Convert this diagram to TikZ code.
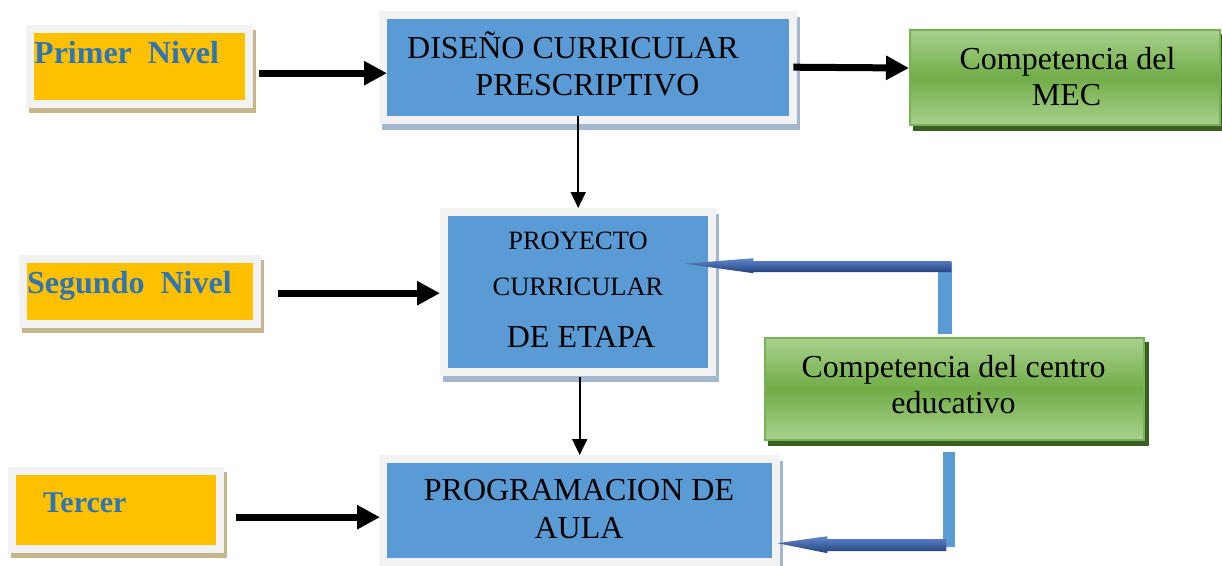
\documentclass[tikz,border=0pt]{standalone}
\usepackage{fontspec}
\setmainfont{Liberation Serif}
\usetikzlibrary{arrows.meta,calc}
\definecolor{orng}{HTML}{FFC000}
\definecolor{lbl}{HTML}{2E75B6}
\definecolor{bbox}{HTML}{5B9BD5}
\definecolor{frm}{HTML}{F2F2F2}
\definecolor{tanshd}{HTML}{C4B58A}
\definecolor{bshd}{HTML}{A3B7CF}
\definecolor{glight}{HTML}{A9D18E}
\definecolor{gmid}{HTML}{70AD47}
\definecolor{gborder}{HTML}{77B255}
\definecolor{gdark}{HTML}{3B5E24}
\definecolor{abl}{HTML}{4472C4}
\definecolor{abd}{HTML}{22407A}
\begin{document}
\begin{tikzpicture}[x=1pt,y=-1pt,
  lvlbox/.style={fill=orng, inner sep=0pt, anchor=north west,
    preaction={draw=tanshd, fill=tanshd, line width=16pt, transform canvas={shift={(3pt,-5pt)}}},
    preaction={draw=frm, line width=16pt}},
  bluebox/.style={fill=bbox, inner sep=0pt, anchor=north west,
    preaction={draw=bshd, fill=bshd, line width=16pt, transform canvas={shift={(3pt,-6pt)}}},
    preaction={draw=frm, line width=16pt}},
  grnbox/.style={inner sep=0pt, anchor=north west, draw=gborder, line width=2pt,
    top color=glight, bottom color=glight, middle color=gmid,
    preaction={fill=gdark, draw=gdark, line width=2pt, transform canvas={shift={(4pt,-5pt)}}}},
  lvltxt/.style={inner sep=0pt, anchor=base west, text=lbl, font=\fontsize{32}{36}\selectfont\bfseries},
  txt/.style={inner sep=0pt, anchor=base, font=\fontsize{32}{36}\selectfont},
  smtxt/.style={inner sep=0pt, anchor=base, font=\fontsize{26.5}{30}\selectfont},
  blk/.style={line width=7pt, -{Triangle[length=23pt,width=23pt]}},
  thinarr/.style={line width=2pt, -{Triangle[length=16pt,width=15pt]}},
  barline/.style={fill=bbox},
  blockarrow/.style={top color=abl!85!white, middle color=abl, bottom color=abd}
]
\useasboundingbox (0,0) rectangle (1222,565);

% level boxes
\node[lvlbox, minimum width=211pt, minimum height=67pt] (p1) at (34,33) {};
\node[lvlbox, minimum width=226pt, minimum height=57pt] (s2) at (27,263) {};
\node[lvlbox, minimum width=200pt, minimum height=70pt] (t3) at (16,475) {};
\node[lvltxt] (p1t) at (34,63) {Primer\ \ Nivel};
\node[lvltxt] (s2t) at (27,293) {Segundo\ \ Nivel};
\node[lvltxt, font=\fontsize{30}{34}\selectfont\bfseries] (t3t) at (43,512) {Tercer};

% blue boxes
\node[bluebox, minimum width=402pt, minimum height=97pt] (ds) at (387,19) {};
\node[bluebox, minimum width=260pt, minimum height=152pt] (pc) at (448,216) {};
\node[bluebox, minimum width=385pt, minimum height=95pt] (pa) at (387,463) {};
\node[txt] (ds1) at (573,58) {DISEÑO CURRICULAR};
\node[txt] (ds2) at (587.5,95) {PRESCRIPTIVO};
\node[smtxt] (pc1) at (578,249) {PROYECTO};
\node[smtxt] (pc2) at (578,295) {CURRICULAR};
\node[txt] (pc3) at (581,347) {DE ETAPA};
\node[txt] (pa1) at (579,500) {PROGRAMACION DE};
\node[txt] (pa2) at (579,538) {AULA};

% green boxes
\node[grnbox, minimum width=310pt, minimum height=95pt] (mec) at (909,29) {};
\node[grnbox, minimum width=379pt, minimum height=102pt] (cc) at (764,337) {};
\node[txt] (mec1) at (1067.5,69) {Competencia del};
\node[txt] (mec2) at (1066.5,105) {MEC};
\node[txt] (cc1) at (953.5,377) {Competencia del centro};
\node[txt] (cc2) at (953.5,413) {educativo};

% black arrows
\draw[blk] ([xshift=14pt,yshift=-6.5pt]p1.east) -- ([yshift=-5.5pt]ds.west);
\draw[blk] ([xshift=4pt,yshift=0.5pt]ds.east) -- ([yshift=9.5pt]mec.west);
\draw[blk] ([xshift=25pt,yshift=-1.5pt]s2.east) -- ([xshift=-8pt,yshift=-1pt]pc.west);
\draw[blk] ([xshift=20pt,yshift=-7pt]t3.east) -- ([xshift=-7pt,yshift=-6.5pt]pa.west);
\draw[thinarr] (ds.south -| pc.north) -- ([yshift=8pt]pc.north);
\draw[thinarr] ([yshift=-9pt]pc.south -| pa.north) -- ([yshift=8pt]pa.north);

% blue feedback connectors
\coordinate (ut) at ([xshift=-24pt,yshift=28.5pt]pc.east);
\coordinate (lt) at ([xshift=5pt,yshift=-32.5pt]pa.east);
\coordinate (ub) at ([xshift=-16.5pt,yshift=3pt]cc.north);
\coordinate (lb) at ([xshift=-11.5pt,yshift=-11pt]cc.south);
\fill[barline] (ub) rectangle ($(ub |- ut)+(14,-1.5)$);
\fill[barline] (lb) rectangle ++(12,95);
\path[blockarrow] (ut) -- ++(69,-5.5) -- ++(0,3) -- ++(198,0) -- ++(0,11) -- ++(-198,0) -- ++(0,1) -- cycle;
\path[blockarrow] (lt) -- ++(50,-7) -- ++(0,3) -- ++(119,0) -- ++(0,12) -- ++(-119,0) -- ++(0,2) -- cycle;
\end{tikzpicture}
\end{document}
